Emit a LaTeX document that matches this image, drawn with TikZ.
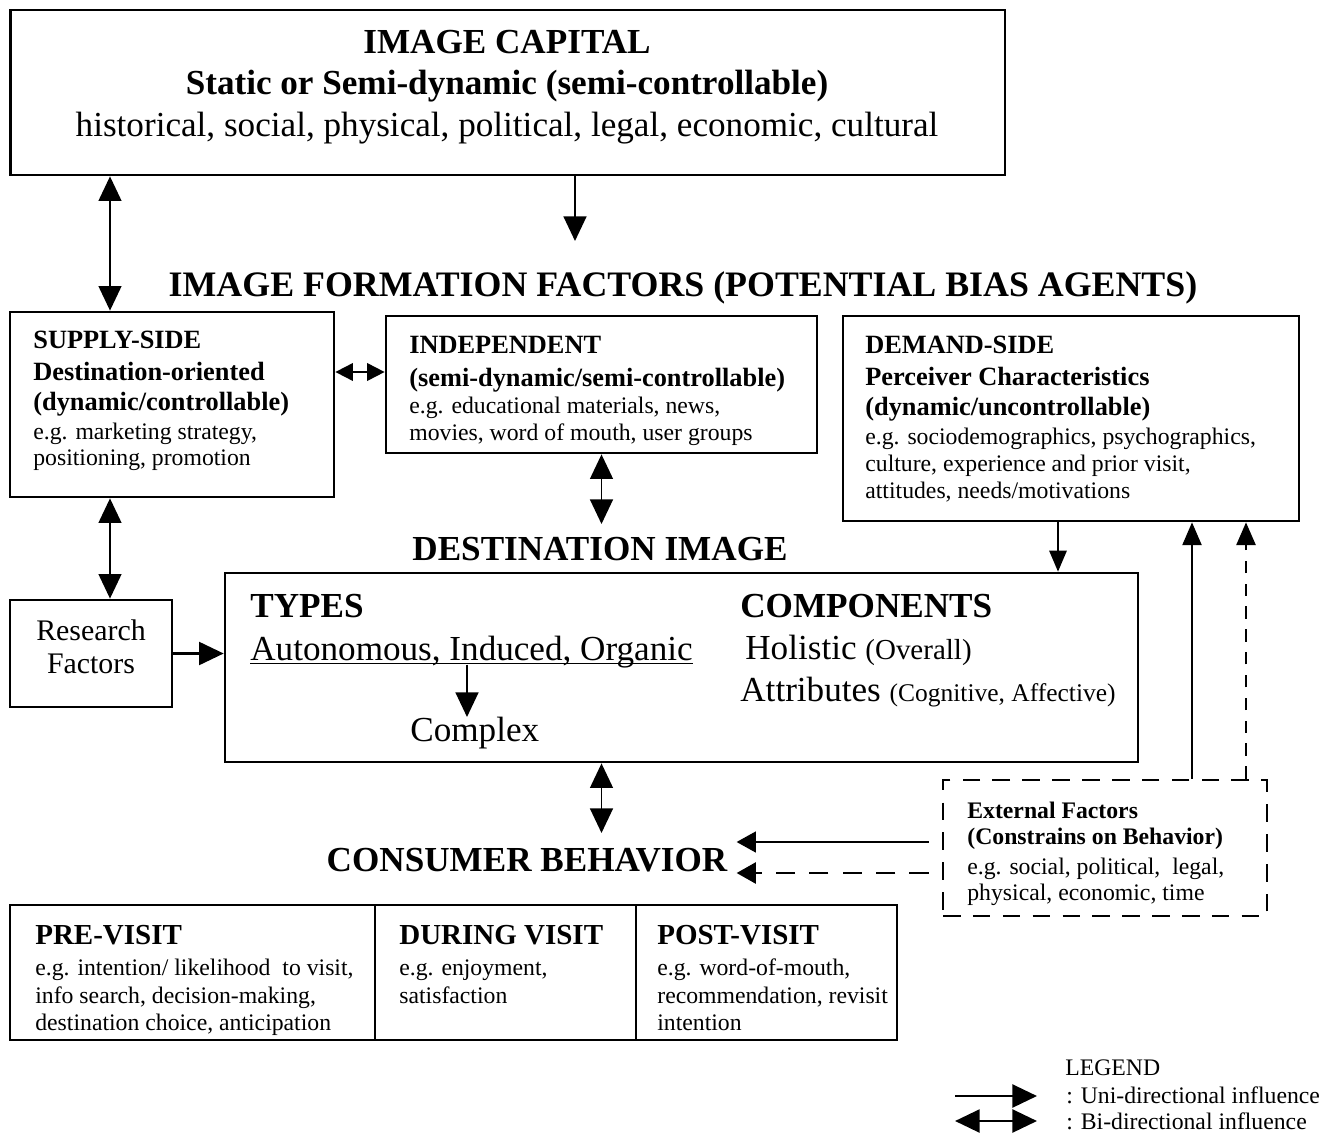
\documentclass[tikz,border=0pt]{standalone}
\usepackage{fontspec}
\setmainfont{Liberation Serif}
\usetikzlibrary{arrows.meta}
\newcommand{\hdfont}{\fontsize{15}{15}\selectfont\bfseries}
\newcommand{\pvfont}{\fontsize{16.5}{16.5}\selectfont\bfseries}

\begin{document}
\begin{tikzpicture}[x=0.02cm, y=-0.02cm,
    box/.style={draw, line width=1.6pt, inner sep=0pt},
    dbox/.style={box, dash pattern=on 10pt off 7pt},
    txt/.style={inner sep=0pt, anchor=north west, align=left, font=\fontsize{13.5}{15.3}\selectfont},
    big/.style={inner sep=0pt, font=\fontsize{20}{23.5}\selectfont\bfseries},
    reg/.style={inner sep=0pt, anchor=north west, font=\fontsize{20}{23.5}\selectfont},
    uni/.style={-{Triangle[length=14pt,width=13pt]}, line width=1.1pt},
    bi/.style={{Triangle[length=14pt,width=13pt]}-{Triangle[length=14pt,width=13pt]}, line width=1.1pt},
    thinar/.style={-{Triangle[length=12pt,width=10pt]}, line width=0.8pt},
  ]
  \fill[white] (0,0) rectangle (1331,1135);

  % Image capital
  \node[box, minimum width=19.9cm, minimum height=3.3cm] (cap) at (507.5,92.5) {};
  \node[big, align=center, anchor=north] (captxt) at (507,30)
    {IMAGE CAPITAL\\Static or Semi-dynamic (semi-controllable)\\
     {\mdseries historical, social, physical, political, legal, economic, cultural}};
  \node[big, anchor=north, font=\fontsize{20.4}{23.5}\selectfont\bfseries] (iff) at (683,271)
    {IMAGE FORMATION FACTORS (POTENTIAL BIAS AGENTS)};

  % Formation factors
  \node[box, minimum width=6.48cm, minimum height=3.7cm] (sup) at (172,404.5) {};
  \node[txt] (suptxt) at (33,331)
    {{\hdfont SUPPLY-SIDE}\\[2.5pt] {\hdfont Destination-oriented}\\[2pt]
     {\hdfont (dynamic/controllable)}\\[1pt] e.g. marketing strategy,\\ positioning, promotion};
  \node[box, minimum width=8.62cm, minimum height=2.74cm] (ind) at (601.5,384.5) {};
  \node[txt] (indtxt) at (409,336)
    {{\hdfont INDEPENDENT}\\[3.4pt] {\hdfont (semi-dynamic/semi-controllable)}\\
     e.g. educational materials, news,\\ movies, word of mouth, user groups};
  \node[box, minimum width=9.12cm, minimum height=4.1cm] (dem) at (1071,418.5) {};
  \node[txt] (demtxt) at (865,336)
    {{\hdfont DEMAND-SIDE}\\[2.8pt] {\hdfont Perceiver Characteristics}\\[1.7pt]
     {\hdfont (dynamic/uncontrollable)}\\[1.1pt] e.g. sociodemographics, psychographics,\\
     culture, experience and prior visit,\\ attitudes, needs/motivations};

  % Destination image
  \node[big, anchor=north] (dlab) at (600,537) {DESTINATION IMAGE};
  \node[box, minimum width=3.24cm, minimum height=2.14cm] (res) at (91,653.5) {};
  \node[align=center, inner sep=0pt, font=\fontsize{17}{18.7}\selectfont] (restxt) at (91,647) {Research\\Factors};
  \node[box, minimum width=18.26cm, minimum height=3.78cm] (dest) at (681.5,667.5) {};
  \node[big, anchor=north west] (types) at (250,594) {TYPES};
  \node[reg] (aut) at (250,636) {\underline{\raisebox{0pt}[\height][0pt]{Autonomous, Induced, Organic}}};
  \node[reg] (cplx) at (410,717) {Complex};
  \node[big, anchor=north west] (comp) at (740,594) {COMPONENTS};
  \node[reg] (hol) at (745,635) {Holistic {\fontsize{16.5}{16}\selectfont (Overall)}};
  \node[reg] (att) at (740,677) {Attributes {\fontsize{14.5}{14.5}\selectfont (Cognitive, Affective)}};

  % External factors and behaviour
  \node[dbox, minimum width=6.48cm, minimum height=2.72cm] (ext) at (1105,848) {};
  \node[txt, font=\fontsize{13.5}{14.8}\selectfont] (exttxt) at (967,802)
    {{\bfseries External Factors}\\ {\bfseries (Constrains on Behavior)}\\[2pt]
     e.g. social, political,~ legal,\\ physical, economic, time};
  \node[big, anchor=north] (cons) at (527,848) {CONSUMER BEHAVIOR};
  \node[box, minimum width=7.3cm, minimum height=2.7cm] (pre) at (192.5,972.5) {};
  \node[box, minimum width=5.22cm, minimum height=2.7cm] (dur) at (505.5,972.5) {};
  \node[box, minimum width=5.22cm, minimum height=2.7cm] (post) at (766.5,972.5) {};
  \node[txt] (pretxt) at (35,925)
    {{\pvfont PRE-VISIT}\\[2.3pt] e.g. intention/ likelihood~ to visit,\\[0.6pt]
     info search, decision-making,\\ destination choice, anticipation};
  \node[txt] (durtxt) at (399,925)
    {{\pvfont DURING VISIT}\\[2.3pt] e.g. enjoyment,\\[0.6pt] satisfaction};
  \node[txt] (posttxt) at (657,925)
    {{\pvfont POST-VISIT}\\[2.3pt] e.g. word-of-mouth,\\[0.6pt] recommendation, revisit\\ intention};

  % Legend
  \node[txt] (lgd) at (1065,1059) {LEGEND};
  \node[txt] (lu) at (1066,1086) {: Uni-directional influence};
  \node[txt] (lb) at (1066,1112) {: Bi-directional influence};

  % Arrow positions
  \coordinate (xl) at (110,0);
  \coordinate (xc) at (575,0);
  \coordinate (yi) at (0,372);
  \coordinate (xt) at (467,0);
  \coordinate (xd) at (1058,0);
  \coordinate (xe) at (1192,0);
  \coordinate (xf) at (1246,0);
  \coordinate (ya) at (0,842);
  \coordinate (yb) at (0,873);
  \coordinate (l1) at (955,1096);
  \coordinate (l2) at (955,1121);

  % Influences
  \draw[bi] (cap.south -| xl) -- (sup.north -| xl);
  \draw[uni] (cap.south -| xc) -- (iff.north -| xc) [shorten >=0.6cm];
  \draw[bi, {Triangle[length=10pt,width=10pt]}-{Triangle[length=10pt,width=10pt]}] (sup.east |- yi) -- (ind.west |- yi);
  \draw[bi, shorten >=0.26cm] (ind.south) -- (dlab.north -| ind.south);
  \draw[bi] (sup.south -| xl) -- (res.north -| xl);
  \draw[uni, line width=1.5pt] (res.east) -- (res.east -| dest.west);
  \draw[uni] (aut.south -| xt) -- (cplx.north -| xt);
  \draw[thinar] (dem.south -| xd) -- (dest.north -| xd);
  \draw[thinar, -{Triangle[length=13pt,width=11pt]}] (ext.north -| xe) -- (dem.south -| xe);
  \draw[thinar, -{Triangle[length=13pt,width=11pt]}, line width=1.1pt, dash pattern=on 7pt off 6pt] (ext.north -| xf) -- (dem.south -| xf);
  \draw[bi, shorten >=0.3cm] (dest.south -| ind.south) -- (cons.north -| ind.south);
  \draw[thinar, -{Triangle[length=11pt,width=12pt]}, shorten <=0.26cm, shorten >=0.18cm] (ext.west |- ya) -- (cons.east |- ya);
  \draw[thinar, -{Triangle[length=11pt,width=12pt]}, line width=1.5pt, dash pattern=on 11pt off 8pt,
        shorten <=0.26cm, shorten >=0.18cm] (ext.west |- yb) -- (cons.east |- yb);
  \draw[uni, line width=1.6pt, shorten >=0.58cm] (l1) -- (l1 -| lu.west);
  \draw[bi, line width=1.6pt, shorten >=0.58cm] (l2) -- (l2 -| lb.west);
\end{tikzpicture}
\end{document}
